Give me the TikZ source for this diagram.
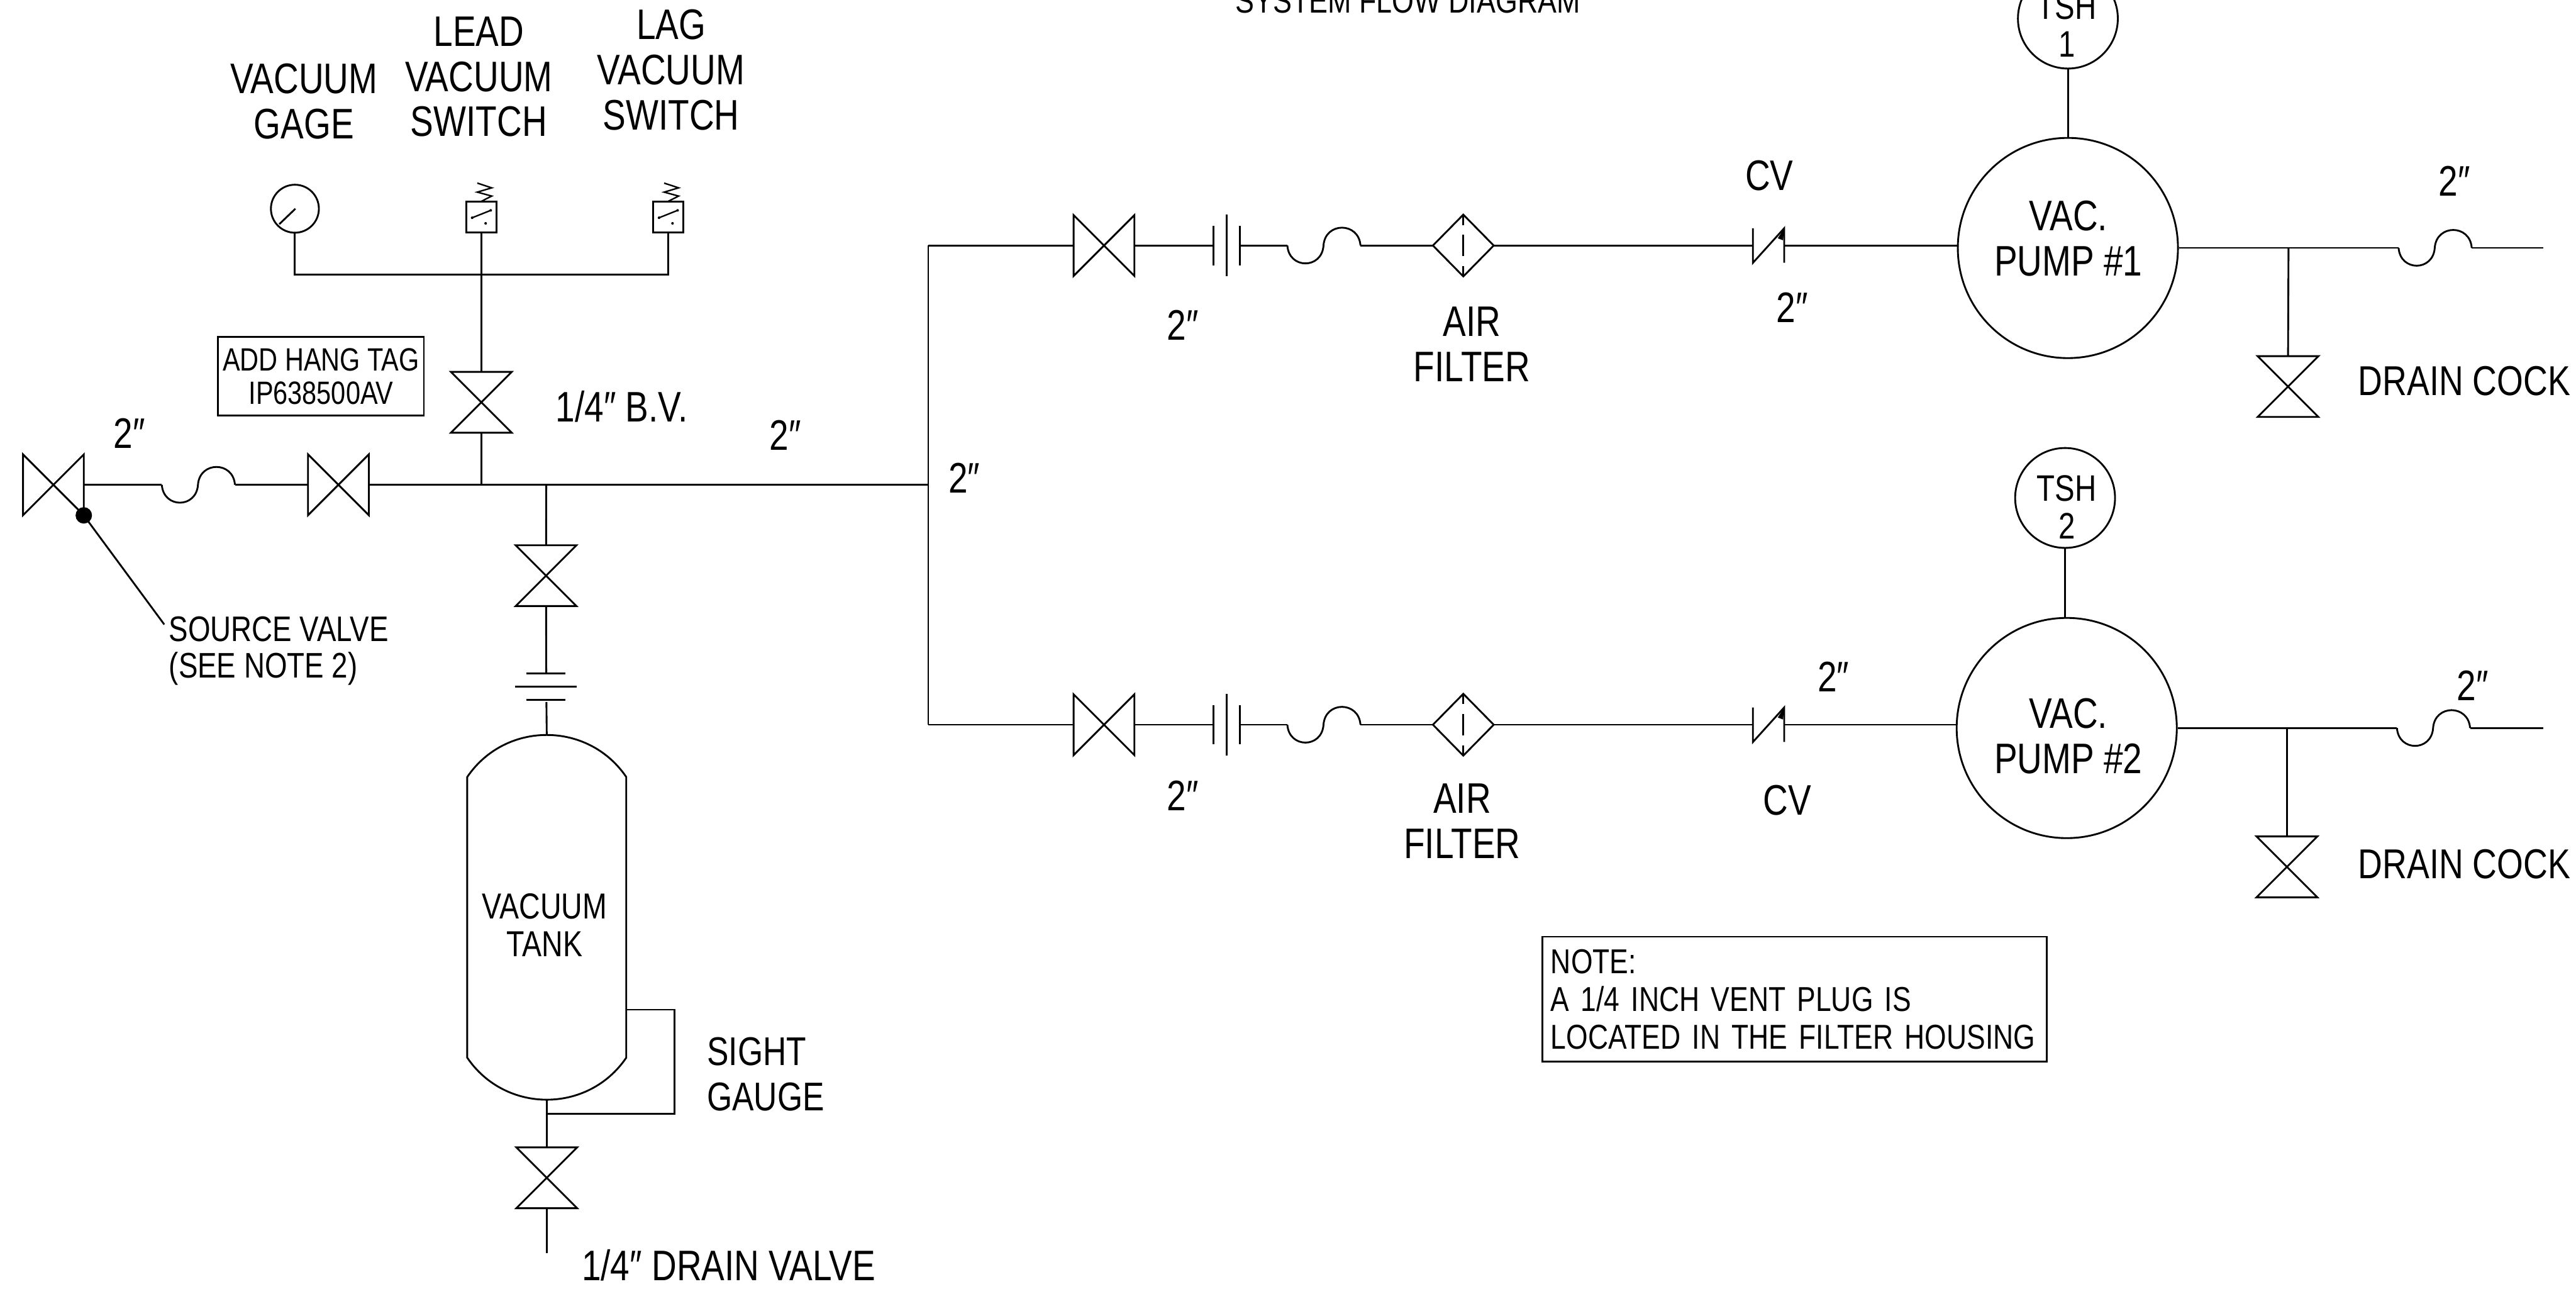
\documentclass[tikz,border=0pt]{standalone}
\usepackage{fontspec}
\setmainfont{Liberation Sans}[Ligatures=ResetAll,FakeStretch=0.81]
\newcommand\cadf[2]{\fontsize{#1}{#2}\selectfont}
\tikzset{
  pipe/.style={line width=0.55pt},
  lab/.style={inner sep=0pt,align=center,font=\cadf{13}{13.75}},
  labm/.style={inner sep=0pt,align=center,font=\cadf{11}{11.5}},
  labl/.style={inner sep=0pt,align=left,anchor=west,font=\cadf{11}{11}},
  ring/.style={draw,circle,inner sep=0pt,line width=0.55pt},
  pics/hvalve/.style={code={
    \coordinate (-l) at (-18.5,0); \coordinate (-r) at (18.5,0);
    \draw[pipe,line join=miter] (-18.5,-18.5) -- (-18.5,18.5) -- (18.5,-18.5) -- (18.5,18.5) -- cycle;}},
  pics/vvalve/.style={code={
    \coordinate (-t) at (0,-18.5); \coordinate (-b) at (0,18.5);
    \draw[pipe,line join=miter] (-18.5,-18.5) -- (18.5,-18.5) -- (-18.5,18.5) -- (18.5,18.5) -- cycle;}},
  pics/hflange/.style={code={
    \coordinate (-l) at (-8,0); \coordinate (-r) at (8,0);
    \draw[pipe] (-8,-12) -- (-8,12) (8,-12) -- (8,12) (0,-18.8) -- (0,18.8);}},
  pics/sloop/.style={code={
    \coordinate (-l) at (0,0); \coordinate (-r) at (44.5,0);
    \draw[pipe] (0,0) .. controls (1,14.5) and (21,14.5) .. (22,0) .. controls (23,-14.5) and (43.5,-14.5) .. (44.5,0);}},
  pics/airfilter/.style={code={
    \coordinate (-l) at (-18.5,0); \coordinate (-r) at (18.5,0);
    \draw[pipe] (-18.5,0) -- (0,-18.8) -- (18.5,0) -- (0,18.8) -- cycle;
    \draw[pipe] (0,-18.8) -- (0,-12.5) (0,-6.5) -- (0,6.5) (0,12.5) -- (0,18.8);}},
  pics/checkv/.style={code={
    \coordinate (-l) at (-9.5,0); \coordinate (-r) at (9.5,0);
    \draw[pipe] (-9.5,-10.5) -- (-9.5,10.5) -- (9.5,-10.5) -- (9.5,10.5);
    \fill (9.5,-10.5) -- (5.6,-4.4) -- (8.8,-3.2) -- cycle;}},
  pics/swbox/.style={code={
    \coordinate (-b) at (0,9.4);
    \draw[pipe] (-9.25,-9.4) rectangle (9.25,9.4);
    \draw[line width=0.45pt] (-2.5,-20.7) -- (6.3,-17.8) -- (-2.5,-15.2) -- (6.3,-12.8) -- (-0.4,-9.4);
    \draw[line width=0.45pt] (-5.6,0.4) -- (5.7,-4.1);
    \fill (-5.6,0.4) circle[radius=0.8] (5.7,-4.1) circle[radius=0.8] (2.6,3.8) circle[radius=0.8];}}
}
\begin{document}
\begin{tikzpicture}[x=0.5pt,y=-0.5pt]
\useasboundingbox (0,0) rectangle (1568,784);
\clip (0,0) rectangle (1568,784);

% ---- left feed line
\pic (sv) at (32.5,295) {hvalve};
\pic (s0) at (98.5,295) {sloop};
\pic (v2) at (206,295) {hvalve};
\coordinate (j1) at (293,295);
\coordinate (j2) at (332.5,295);
\coordinate (j3) at (565,295);
\coordinate (j4) at (565,149.4);
\coordinate (j5) at (565,441);
\draw[pipe] (sv-r) -- (s0-l) (s0-r) -- (v2-l) (v2-r) -- (j1) -- (j2) -- (j3);
\draw[pipe] (j4) -- (j3) -- (j5);

% ---- source valve tag
\node[circle,fill=black,inner sep=0pt,minimum size=5pt] (dot) at (51,313.6) {};
\coordinate (lead) at (100,380);
\draw[pipe] (dot.center) -- (lead);
\node[labl,font=\cadf{10.8}{11}] (srclab) at (102.5,396) {SOURCE VALVE\\(SEE NOTE 2)};

% ---- instruments
\node[ring,minimum size=14.6pt] (gauge) at (179.5,127) {};
\path (gauge.center) ++(-9.5,9.4) coordinate (n1) (gauge.center) ++(0.3,0) coordinate (n2);
\draw[pipe] (n1) -- (n2);
\pic (sw1) at (293,132.1) {swbox};
\pic (sw2) at (406.75,132.1) {swbox};
\coordinate (tee) at (293,167);
\coordinate (tl) at (179.5,167);
\coordinate (tr) at (406.75,167);
\draw[pipe] (gauge.south) -- (tl) -- (tr) -- (sw2-b);
\pic (bv) at (293,244.8) {vvalve};
\draw[pipe] (sw1-b) -- (tee) -- (bv-t);
\draw[pipe] (bv-b) -- (j1);
\node[draw,pipe,inner sep=0pt,align=center,minimum width=62.6pt,minimum height=24pt,font=\cadf{9.8}{10.25}] (tag) at (195.4,229) {ADD HANG TAG\\IP638500AV};

% ---- tank
\pic (tv) at (332.4,350.3) {vvalve};
\draw[pipe] (j2) -- (tv-t);
\coordinate (f1) at (332.5,409.9);
\coordinate (f2) at (332.6,427.2);
\draw[pipe] (tv-b) -- (f1);
\draw[pipe] (320.4,409.9) -- (344,409.9) (313.7,417.9) -- (351,417.9) (320.4,425.7) -- (344,425.7);
\node[inner sep=0pt,minimum size=0pt] (tanktop) at (332.8,447.2) {};
\node[inner sep=0pt,minimum size=0pt] (tankbot) at (332.8,669.2) {};
\draw[pipe] (f2) -- (tanktop);
\draw[pipe] (284.4,472.8) .. controls (307.6,438.7) and (358,438.7) .. (381.2,472.8) -- (381.2,643.6)
  .. controls (358,677.7) and (307.6,677.7) .. (284.4,643.6) -- cycle;
\pic (dv) at (332.8,716.7) {vvalve};
\coordinate (dvend) at (332.8,762.5);
\draw[pipe] (tankbot) -- (dv-t) (dv-b) -- (dvend);
\coordinate (sg1) at (381.2,614.4);
\coordinate (sg2) at (410.6,614.4);
\coordinate (sg3) at (410.6,677.6);
\coordinate (sg4) at (332.8,677.6);
\draw[pipe] (sg1) -- (sg2) -- (sg3) -- (sg4);

% ---- upper branch
\pic (u1) at (672,149.4) {hvalve};
\pic (u2) at (746.7,149.4) {hflange};
\pic (u3) at (783.6,149.4) {sloop};
\pic (u4) at (890.7,149.4) {airfilter};
\pic (u5) at (1076.5,149.4) {checkv};
\node[ring,minimum size=67pt] (pump1) at (1258.7,150.9) {};
\node[ring,minimum size=30.4pt] (tsh1) at (1258.7,11.3) {};
\draw[pipe] (j4) -- (u1-l) (u1-r) -- (u2-l) (u2-r) -- (u3-l) (u3-r) -- (u4-l) (u4-r) -- (u5-l);
\draw[pipe] (u5-r) -- (pump1.west |- u5-r);
\draw[pipe] (tsh1.south) -- (pump1.north);
\coordinate (ub) at (1393,150.8);
\pic (us) at (1460,150.8) {sloop};
\coordinate (uend) at (1548,150.8);
\draw[pipe] (pump1.east |- ub) -- (ub) -- (us-l) (us-r) -- (uend);
\pic (uc) at (1392.7,235.2) {vvalve};
\draw[pipe] (ub) -- (uc-t);

% ---- lower branch
\pic (l1) at (672,441) {hvalve};
\pic (l2) at (746.7,441) {hflange};
\pic (l3) at (783.6,441) {sloop};
\pic (l4) at (890.7,441) {airfilter};
\pic (l5) at (1076.5,441) {checkv};
\node[ring,minimum size=67pt] (pump2) at (1258,443) {};
\node[ring,minimum size=30.4pt] (tsh2) at (1257,303) {};
\draw[pipe] (j5) -- (l1-l) (l1-r) -- (l2-l) (l2-r) -- (l3-l) (l3-r) -- (l4-l) (l4-r) -- (l5-l);
\draw[pipe] (l5-r) -- (pump2.west |- l5-r);
\draw[pipe] (tsh2.south) -- (tsh2.south |- pump2.north);
\coordinate (lb) at (1392,443);
\pic (ls) at (1459,443) {sloop};
\coordinate (lend) at (1548,443);
\draw[pipe] (pump2.east) -- (lb) -- (ls-l) (ls-r) -- (lend);
\pic (lc) at (1392,527.5) {vvalve};
\draw[pipe] (lb) -- (lc-t);

% ---- labels
\node[labm,font=\cadf{10.6}{11}] (title) at (857,0.5) {SYSTEM FLOW DIAGRAM};
\node[lab] (lgage) at (185,61.8) {VACUUM\\GAGE};
\node[lab] (llead) at (291.5,46.7) {LEAD\\VACUUM\\SWITCH};
\node[lab] (llag) at (408.5,42.5) {LAG\\VACUUM\\SWITCH};
\node[lab] (lbv) at (378.5,247.3) {1/4″ B.V.};
\node[lab] (q1) at (78.7,263.5) {2″};
\node[lab] (q2) at (478,265) {2″};
\node[lab] (q3) at (587,291) {2″};
\node[lab] (q4) at (720,198) {2″};
\node[lab] (q5) at (1091,187) {2″};
\node[lab] (q6) at (1494,110) {2″};
\node[lab] (q7) at (720,484) {2″};
\node[lab] (q8) at (1116,412) {2″};
\node[lab] (q9) at (1505,417) {2″};
\node[lab] (af1) at (896,209.5) {AIR\\FILTER};
\node[lab] (af2) at (890,499.5) {AIR\\FILTER};
\node[lab] (cv1) at (1077,107) {CV};
\node[lab] (cv2) at (1088,487) {CV};
\node[lab] (pl1) at (1259,145) {VAC.\\PUMP \#1};
\node[lab] (pl2) at (1259,448) {VAC.\\PUMP \#2};
\node[labm,font=\cadf{11.2}{11.5}] (tl1) at (1258,15.5) {TSH\\1};
\node[labm,font=\cadf{11.2}{11.5}] (tl2) at (1258,308.5) {TSH\\2};
\node[lab,font=\cadf{12.7}{13}] (dc1) at (1500,232) {DRAIN COCK};
\node[lab,font=\cadf{12.7}{13}] (dc2) at (1500,526) {DRAIN COCK};
\node[labm] (tanklab) at (331.5,563) {VACUUM\\TANK};
\node[lab,align=left,anchor=west,font=\cadf{12.2}{13.75}] (sight) at (430,653.5) {SIGHT\\GAUGE};
\node[lab,font=\cadf{13}{13}] (drain) at (443.5,770) {1/4″ DRAIN VALVE};
\node[draw,pipe,inner xsep=2.5pt,inner ysep=0pt,align=left,text width=148.5pt,minimum width=153.5pt,minimum height=38pt,font=\cadf{10.5}{11.5}] (note) at (1092.5,608) {NOTE:\\A 1/4 INCH VENT PLUG IS\\\mbox{LOCATED IN THE FILTER HOUSING}};
\end{tikzpicture}
\end{document}
